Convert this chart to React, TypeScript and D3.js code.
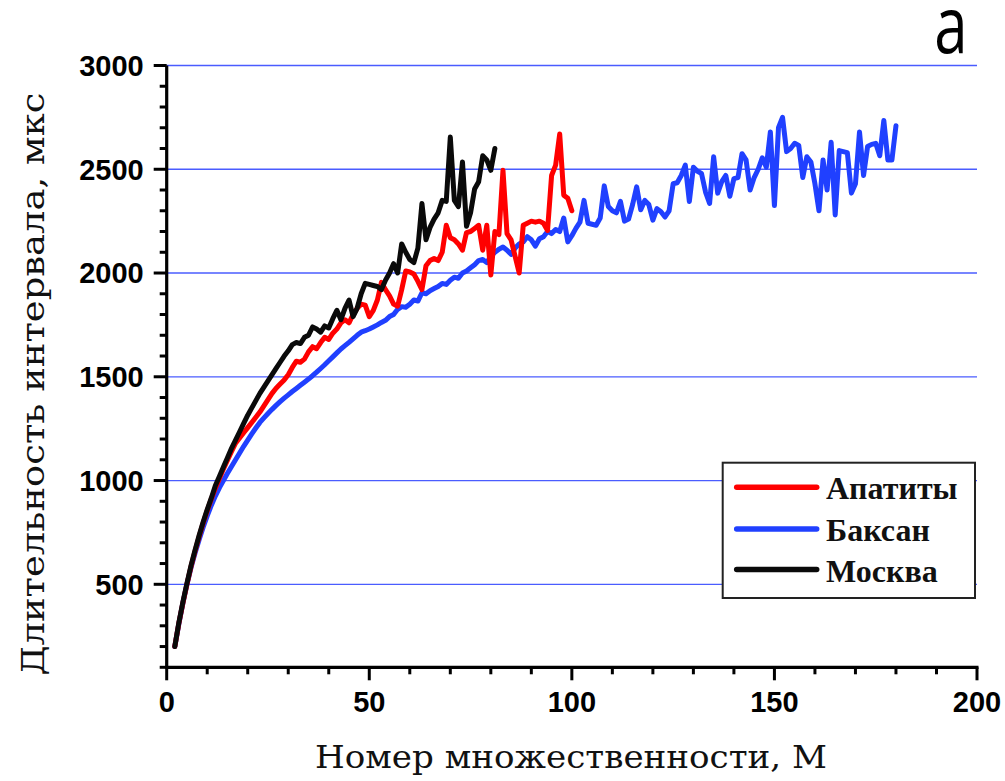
import React from "react";
import * as d3 from "d3";

// Multiplicity number M starts at 2 for every station; values are interval durations, µs.
const FIRST_M = 2;

const moscowValues = [
  200, 315, 415, 505, 590, 665, 735, 800, 860, 915, // M 2-11
  975, 1020, 1065, 1110, 1155, 1195, 1235, 1275, 1315, 1350, // 12-21
  1385, 1420, 1450, 1480, 1510, 1540, 1570, 1600, 1625, 1655, // 22-31
  1665, 1660, 1690, 1700, 1740, 1730, 1715, 1745, 1735, 1780, // 32-41
  1820, 1775, 1830, 1870, 1790, 1830, 1900, 1950, 1945, 1940, // 42-51
  1935, 1920, 1965, 2000, 2045, 2000, 2140, 2100, 2065, 2050, // 52-61
  2120, 2335, 2160, 2220, 2260, 2290, 2350, 2345, 2655, 2350, // 62-71
  2320, 2535, 2225, 2290, 2405, 2440, 2565, 2545, 2495, 2600, // 72-81
];

const apatityValues = [
  200, 312, 410, 500, 585, 660, 730, 795, 855, 910, // M 2-11
  962, 1010, 1055, 1098, 1140, 1180, 1205, 1230, 1255, 1280, // 12-21
  1305, 1330, 1360, 1390, 1420, 1445, 1465, 1485, 1510, 1545, // 22-31
  1575, 1570, 1585, 1620, 1645, 1635, 1665, 1690, 1680, 1710, // 32-41
  1730, 1760, 1775, 1760, 1800, 1830, 1850, 1845, 1790, 1820, // 42-51
  1870, 1955, 1920, 1890, 1850, 1840, 1920, 2010, 2005, 1995, // 52-61
  1960, 1920, 2035, 2060, 2070, 2060, 2100, 2230, 2170, 2160, // 62-71
  2140, 2110, 2195, 2200, 2215, 2230, 2110, 2230, 1990, 2200, // 72-81
  2185, 2495, 2190, 2160, 2080, 2000, 2230, 2240, 2250, 2245, // 82-91
  2250, 2240, 2205, 2470, 2520, 2670, 2375, 2360, 2300, // 92-100
];

const baksanValues = [
  200, 310, 410, 500, 580, 650, 715, 775, 830, 880, // M 2-11
  925, 965, 1000, 1035, 1068, 1100, 1133, 1165, 1195, 1225, // 12-21
  1253, 1280, 1302, 1323, 1343, 1362, 1380, 1397, 1413, 1429, // 22-31
  1444, 1459, 1474, 1489, 1505, 1522, 1540, 1558, 1577, 1596, // 32-41
  1615, 1634, 1650, 1666, 1683, 1700, 1715, 1722, 1730, 1740, // 42-51
  1750, 1762, 1772, 1790, 1800, 1825, 1838, 1835, 1850, 1870, // 52-61
  1865, 1905, 1900, 1915, 1925, 1935, 1950, 1945, 1965, 1980, // 62-71
  1975, 2000, 2010, 2025, 2040, 2060, 2065, 2050, 2080, 2100, // 72-81
  2115, 2125, 2110, 2090, 2120, 2140, 2150, 2175, 2160, 2130, // 82-91
  2165, 2175, 2200, 2190, 2210, 2200, 2265, 2150, 2180, 2215, // 92-101
  2245, 2350, 2240, 2235, 2230, 2265, 2420, 2320, 2300, 2290, // 102-111
  2345, 2250, 2260, 2330, 2415, 2305, 2350, 2330, 2255, 2310, // 112-121
  2295, 2270, 2300, 2430, 2435, 2470, 2520, 2345, 2510, 2490, // 122-131
  2480, 2390, 2335, 2560, 2385, 2440, 2470, 2370, 2455, 2460, // 132-141
  2575, 2545, 2400, 2460, 2500, 2555, 2510, 2680, 2325, 2700, // 142-151
  2750, 2585, 2600, 2625, 2615, 2460, 2560, 2535, 2430, 2300, // 152-161
  2545, 2400, 2630, 2280, 2590, 2585, 2580, 2385, 2430, 2680, // 162-171
  2470, 2610, 2620, 2625, 2565, 2735, 2545, 2545, 2710, // 172-180 ... 181
];

const stationNames = ["Апатиты", "Баксан", "Москва"];
const stationColors = ["#ff0000", "#2040ff", "#0a0a0a"];

const xTicksMajor = [0, 50, 100, 150, 200];
const yTicksMajor = [500, 1000, 1500, 2000, 2500, 3000];

const xLabel = "Номер множественности, М";
const yLabel = "Длительность интервала, мкс";
const panelLetter = "а";

const W = 1005;
const H = 781;

export default function App() {
  const x = d3.scaleLinear().domain([0, 200]).range([166.7, 977]);
  const y = d3.scaleLinear().domain([100, 3000]).range([667.3, 65.5]);

  const toPoints = (vals: number[]) =>
    vals.map((v, i) => [FIRST_M + i, v] as [number, number]);

  const line = d3
    .line<[number, number]>()
    .x((d) => x(d[0]))
    .y((d) => y(d[1]));

  const series = [
    { name: stationNames[1], color: stationColors[1], values: baksanValues },
    { name: stationNames[0], color: stationColors[0], values: apatityValues },
    { name: stationNames[2], color: stationColors[2], values: moscowValues },
  ];

  const xMinor = d3.range(0, 201, 10).filter((t) => !xTicksMajor.includes(t));
  const yMinor = d3.range(100, 3001, 100).filter((t) => !yTicksMajor.includes(t));

  const axisColor = "#000";
  const tickFont = "'Liberation Sans', Arial, sans-serif";
  const titleFont = "'DejaVu Serif', serif";

  const legendX = 722.7;
  const legendY = 462.7;
  const legendRows = [487.3, 529, 569.5];

  return (
    <svg
      width={W}
      height={H}
      viewBox={`0 0 ${W} ${H}`}
      style={{ position: "absolute", left: 0, top: 0, background: "#fff" }}
    >
      <rect x={0} y={0} width={W} height={H} fill="#fff" />

      {/* horizontal grid */}
      {yTicksMajor.map((t) => (
        <line
          key={`g${t}`}
          x1={x(0)}
          x2={x(200)}
          y1={y(t)}
          y2={y(t)}
          stroke="#4a5cff"
          strokeWidth={1.3}
        />
      ))}

      {/* data lines */}
      {series.map((s) => (
        <path
          key={s.name}
          d={line(toPoints(s.values)) || ""}
          fill="none"
          stroke={s.color}
          strokeWidth={5}
          strokeLinejoin="round"
          strokeLinecap="round"
        />
      ))}

      {/* y axis */}
      <line x1={x(0)} x2={x(0)} y1={y(3000)} y2={y(100)} stroke={axisColor} strokeWidth={3.2} />
      {yTicksMajor.map((t) => (
        <g key={`yt${t}`}>
          <line x1={x(0) - 13} x2={x(0)} y1={y(t)} y2={y(t)} stroke={axisColor} strokeWidth={3} />
          <text
            x={x(0) - 23}
            y={y(t)}
            dy="0.36em"
            textAnchor="end"
            fontFamily={tickFont}
            fontWeight="bold"
            fontSize={29}
            fill="#000"
          >
            {t}
          </text>
        </g>
      ))}
      {yMinor.map((t) => (
        <line key={`ym${t}`} x1={x(0) - 7} x2={x(0)} y1={y(t)} y2={y(t)} stroke={axisColor} strokeWidth={3} />
      ))}

      {/* x axis */}
      <line x1={x(0) - 1.5} x2={x(200) + 1.5} y1={y(100)} y2={y(100)} stroke={axisColor} strokeWidth={3.2} />
      {xTicksMajor.map((t) => (
        <g key={`xt${t}`}>
          <line x1={x(t)} x2={x(t)} y1={y(100)} y2={y(100) + 13} stroke={axisColor} strokeWidth={3} />
          <text
            x={x(t)}
            y={711.7}
            textAnchor="middle"
            fontFamily={tickFont}
            fontWeight="bold"
            fontSize={29}
            fill="#000"
          >
            {t}
          </text>
        </g>
      ))}
      {xMinor.map((t) => (
        <line key={`xm${t}`} x1={x(t)} x2={x(t)} y1={y(100)} y2={y(100) + 7} stroke={axisColor} strokeWidth={3} />
      ))}

      {/* axis titles */}
      <text
        x={571}
        y={768}
        textAnchor="middle"
        fontFamily={titleFont}
        fontSize={32}
        textLength={512}
        lengthAdjust="spacingAndGlyphs"
        fill="#111"
      >
        {xLabel}
      </text>
      <text
        transform={`translate(44, 384) rotate(-90)`}
        textAnchor="middle"
        fontFamily={titleFont}
        fontSize={32}
        textLength={583}
        lengthAdjust="spacingAndGlyphs"
        fill="#111"
      >
        {yLabel}
      </text>

      {/* panel letter */}
      <text
        transform="translate(951, 53) scale(1, 1.3)"
        textAnchor="middle"
        fontFamily="'Open Sans', 'DejaVu Sans', sans-serif"
        fontSize={60}
        fill="#000"
      >
        {panelLetter}
      </text>

      {/* legend */}
      <rect
        x={legendX}
        y={legendY}
        width={975 - legendX}
        height={598 - legendY}
        fill="#fff"
        stroke="#222"
        strokeWidth={2}
      />
      {stationNames.map((n, i) => (
        <g key={`lg${n}`}>
          <line
            x1={736.7}
            x2={816.7}
            y1={legendRows[i]}
            y2={legendRows[i]}
            stroke={stationColors[i]}
            strokeWidth={5.5}
            strokeLinecap="round"
          />
          <text
            x={826}
            y={legendRows[i] + 12}
            fontFamily="'Liberation Serif', 'Times New Roman', serif"
            fontWeight="bold"
            fontSize={32}
            fill="#111"
          >
            {n}
          </text>
        </g>
      ))}
    </svg>
  );
}
